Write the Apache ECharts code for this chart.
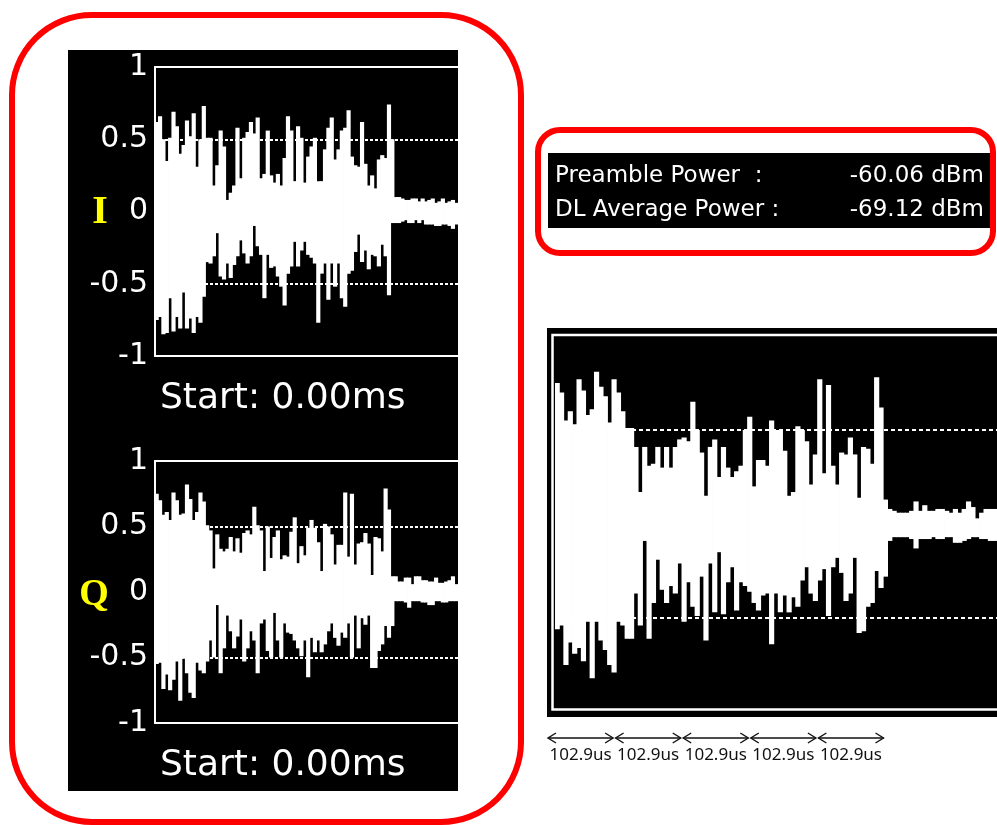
<!DOCTYPE html>
<html><head><meta charset="utf-8">
<script src="https://cdn.jsdelivr.net/npm/echarts@6/dist/echarts.min.js"></script>
<style>html,body{margin:0;padding:0;background:#fff}#c{width:997px;height:825px}</style>
</head><body><div id="c"></div>
<script>
// I channel envelope (upper / lower), normalized amplitude
const iUpper = [0.62,0.66,0.50,0.35,0.51,0.69,0.59,0.40,0.46,0.63, 0.52,0.68,0.31,0.50,0.73,0.51,0.51,0.18,0.32,0.56, 0.45,0.08,0.13,0.18,0.58,0.23,0.51,0.55,0.62,0.54, 0.65,0.23,0.26,0.56,0.25,0.20,0.26,0.18,0.37,0.66, 0.56,0.21,0.59,
  0.51,0.20,0.38,0.45,0.51,0.21,0.21,0.43,0.58,0.65, 0.36,0.43,0.56,0.58,0.70,0.38,0.32,0.31,0.62,0.33, 0.18,0.25,0.16,0.36,0.39,0.37,0.74,0.50,
  0.10,0.10,0.09,0.08,0.08,0.09,0.09,0.07,0.09,0.07,0.08,0.09,0.06,0.07,0.09,0.06,0.07,0.08,0.06];
const iLower = [-0.75,-0.73,-0.85,-0.84,-0.60,-0.83,-0.73,-0.81,-0.56,-0.81, -0.74,-0.84,-0.73,-0.77,-0.59,-0.35,-0.36,-0.31,-0.15,-0.45, -0.47,-0.36,-0.46,-0.37,-0.31,-0.20,-0.29,-0.36,-0.31,-0.10, -0.24,-0.30,-0.60,-0.30,-0.39,-0.38,-0.45,-0.52,-0.65,-0.43, -0.38,-0.21,-0.38,
  -0.27,-0.21,-0.30,-0.32,-0.36,-0.77,-0.43,-0.36,-0.61,-0.36, -0.52,-0.36,-0.60,-0.66,-0.43,-0.41,-0.28,-0.16,-0.35,-0.27, -0.40,-0.30,-0.31,-0.38,-0.23,-0.31,-0.58,-0.08,
  -0.08,-0.08,-0.07,-0.06,-0.08,-0.08,-0.06,-0.08,-0.06,-0.09,-0.09,-0.09,-0.10,-0.10,-0.09,-0.09,-0.10,-0.12,-0.09];
// Q channel envelope
const qUpper = [0.75,0.70,0.59,0.61,0.55,0.76,0.70,0.59,0.60,0.82, 0.71,0.55,0.61,0.76,0.69,0.51,0.47,0.18,0.44,0.33, 0.31,0.33,0.42,0.31,0.41,0.30,0.45,0.47,0.44,0.65, 0.51,0.47,0.16,0.50,0.26,0.42,0.47,0.25,0.28,0.27, 0.46,0.57,0.22,
  0.35,0.28,0.49,0.55,0.49,0.38,0.16,0.52,0.50,0.44, 0.21,0.36,0.36,0.76,0.27,0.75,0.21,0.37,0.38,0.45, 0.37,0.13,0.42,0.41,0.31,0.79,0.63,0.12,
  0.12,0.08,0.08,0.11,0.11,0.06,0.12,0.12,0.09,0.09,0.08,0.08,0.11,0.07,0.07,0.08,0.09,0.12,0.06];
const qLower = [-0.55,-0.54,-0.74,-0.63,-0.75,-0.67,-0.53,-0.83,-0.51,-0.62, -0.77,-0.81,-0.54,-0.60,-0.62,-0.53,-0.37,-0.50,-0.10,-0.62, -0.43,-0.18,-0.30,-0.43,-0.34,-0.21,-0.53,-0.43,-0.30,-0.37, -0.62,-0.24,-0.21,-0.45,-0.50,-0.16,-0.37,-0.50,-0.24,-0.31, -0.32,-0.37,-0.43,
  -0.49,-0.37,-0.65,-0.35,-0.46,-0.37,-0.46,-0.40,-0.30,-0.24, -0.35,-0.41,-0.31,-0.35,-0.24,-0.50,-0.18,-0.43,-0.20,-0.25, -0.18,-0.58,-0.58,-0.45,-0.40,-0.26,-0.35,-0.26,
  -0.07,-0.07,-0.07,-0.08,-0.12,-0.07,-0.07,-0.07,-0.08,-0.08,-0.10,-0.10,-0.07,-0.07,-0.08,-0.08,-0.07,-0.07,-0.07];
// zoomed view (right)
const zUpper = [0.75,0.70,0.55,0.60,0.53,0.77,0.71,0.58,0.61,0.81, 0.73,0.68,0.54,0.77,0.70,0.60,0.51,0.51,0.41,0.17, 0.41,0.31,0.32,0.41,0.30,0.41,0.30,0.41,0.45,0.46, 0.44,0.65,0.50,0.38,0.15,0.41,0.45,0.25,0.41,0.30, 0.25,0.28,0.31,0.50,0.57,0.20,0.34,0.34,0.31,
  0.55,0.50,0.50,0.39,0.15,0.17,0.52,0.50,0.44,0.21, 0.37,0.77,0.27,0.74,0.31,0.21,0.38,0.37,0.46,0.37, 0.14,0.41,0.40,0.32,0.78,0.62,0.13,
  0.08,0.07,0.06,0.06,0.06,0.07,0.12,0.07,0.10,0.07, 0.07,0.08,0.08,0.07,0.06,0.08,0.06,0.08,0.12,0.09, 0.03,0.06,0.08,0.08,0.08];
const zLower = [-0.56,-0.54,-0.75,-0.63,-0.69,-0.66,-0.73,-0.52,-0.82,-0.52, -0.62,-0.67,-0.75,-0.79,-0.52,-0.54,-0.61,-0.61,-0.37,-0.54, -0.09,-0.61,-0.42,-0.19,-0.35,-0.42,-0.33,-0.37,-0.21,-0.52, -0.31,-0.44,-0.49,-0.28,-0.62,-0.21,-0.47,-0.15,-0.48,-0.31, -0.23,-0.46,-0.31,-0.33,-0.36,-0.42,-0.46,-0.38,-0.37,
  -0.64,-0.37,-0.47,-0.38,-0.47,-0.39,-0.44,-0.30,-0.23,-0.37, -0.41,-0.30,-0.24,-0.49,-0.23,-0.18,-0.26,-0.41,-0.37,-0.18, -0.58,-0.57,-0.44,-0.42,-0.25,-0.34,-0.28,
  -0.09,-0.07,-0.07,-0.07,-0.07,-0.08,-0.13,-0.08,-0.08,-0.08, -0.07,-0.08,-0.08,-0.07,-0.07,-0.10,-0.10,-0.09,-0.08,-0.07, -0.07,-0.08,-0.08,-0.09,-0.09];
const yMin = -1, yMax = 1, yInterval = 0.5;
const refLevels = [0.5, -0.5];
const symbolDurations = [102.9, 102.9, 102.9, 102.9, 102.9];
const durationUnit = 'us';
const powerLabels = ['Preamble Power  :', 'DL Average Power :'];
const powerValues = ['-60.06 dBm', '-69.12 dBm'];
const startLabel = 'Start: 0.00ms';

const chart = echarts.init(document.getElementById('c'), null, {renderer: 'canvas'});
const idx = a => a.map((_, i) => i);
const W = '#ffffff';

function catAxis(grid, n, pos, showLine) {
  return {type: 'category', gridIndex: grid, data: idx(n), position: pos, boundaryGap: true,
    axisLine: {show: showLine, onZero: false, lineStyle: {color: W, width: 2}},
    axisTick: {show: false}, axisLabel: {show: false}, splitLine: {show: false}};
}
function valAxis(grid, show) {
  return {type: 'value', gridIndex: grid, min: yMin, max: yMax, interval: yInterval,
    show: show,
    axisLine: {show: true, lineStyle: {color: W, width: 2}},
    axisTick: {show: false}, splitLine: {show: false},
    axisLabel: {color: W, fontSize: 30, fontFamily: 'DejaVu Sans', margin: 7,
      formatter: v => String(v)}};
}
// one white span per sample, from lower to upper envelope
function envSeries(xi, yi, upper, lower, dash) {
  return {type: 'custom', xAxisIndex: xi, yAxisIndex: yi, silent: true, clip: true,
    data: upper.map((u, i) => [i, lower[i], u]),
    encode: {x: 0, y: [1, 2]},
    renderItem: function (params, api) {
      const i = api.value(0);
      const top = api.coord([i, api.value(2)]);
      const bot = api.coord([i, api.value(1)]);
      const w = api.size([1, 0])[0];
      return {type: 'rect',
        shape: {x: top[0] - w / 2 - 0.4, y: top[1], width: w + 0.8, height: bot[1] - top[1]},
        style: {fill: W}};
    },
    markLine: {symbol: 'none', silent: true, label: {show: false},
      lineStyle: {color: W, type: dash, width: 2},
      data: refLevels.map(v => ({yAxis: v}))}
  };
}

// arrow annotation data built from durations
const arrowData = [];
let acc = 0;
symbolDurations.forEach(d => { arrowData.push([acc, acc + d, d]); acc += d; });

const option = {
  animation: false,
  backgroundColor: '#fff',
  grid: [
    {left: 155, top: 67, width: 303, height: 289},
    {left: 155, top: 461, width: 303, height: 262},
    {left: 555, top: 336, width: 442, height: 376},
    {left: 547, top: 723, width: 338, height: 30}
  ],
  xAxis: [
    catAxis(0, iUpper, 'bottom', true),
    catAxis(0, iUpper, 'top', true),
    catAxis(1, qUpper, 'bottom', true),
    catAxis(1, qUpper, 'top', true),
    catAxis(2, zUpper, 'bottom', false),
    {type: 'value', gridIndex: 3, min: 0, max: acc, show: false}
  ],
  yAxis: [
    valAxis(0, true),
    valAxis(1, true),
    valAxis(2, false),
    {type: 'value', gridIndex: 3, min: 0, max: 1, show: false}
  ],
  series: [
    envSeries(0, 0, iUpper, iLower, [3, 2]),
    envSeries(2, 1, qUpper, qLower, [3, 2]),
    envSeries(4, 2, zUpper, zLower, [4, 3]),
    {
      type: 'custom', xAxisIndex: 5, yAxisIndex: 3, silent: true,
      data: arrowData,
      renderItem: function (params, api) {
        const p0 = api.coord([api.value(0), 0.5]);
        const p1 = api.coord([api.value(1), 0.5]);
        const a = p0[0] + 1, b = p1[0] - 1.5, y = p0[1];
        const st = {stroke: '#111', lineWidth: 1.4, fill: null};
        return {type: 'group', children: [
          {type: 'line', shape: {x1: a, y1: y, x2: b, y2: y}, style: st},
          {type: 'polyline', shape: {points: [[a + 8, y - 5], [a, y], [a + 8, y + 5]]}, style: st},
          {type: 'polyline', shape: {points: [[b - 8, y - 5], [b, y], [b - 8, y + 5]]}, style: st},
          {type: 'text', style: {text: api.value(2).toFixed(1) + durationUnit, x: (a + b) / 2, y: y + 17,
            align: 'center', verticalAlign: 'middle', fontSize: 17, fontFamily: 'Noto Sans', fill: '#111'}}
        ]};
      }
    }
  ],
  graphic: {elements: [
    {type: 'rect', z: -10, shape: {x: 12, y: 15, width: 509, height: 807, r: 80},
      style: {fill: '#fff', stroke: '#ff0000', lineWidth: 6}},
    {type: 'rect', z: -9, shape: {x: 68, y: 50, width: 390, height: 741}, style: {fill: '#000'}},
    {type: 'rect', z: -10, shape: {x: 538, y: 130, width: 455, height: 123, r: 22},
      style: {fill: '#fff', stroke: '#ff0000', lineWidth: 6}},
    {type: 'rect', z: -9, shape: {x: 548, y: 153, width: 442, height: 75}, style: {fill: '#000'}},
    {type: 'rect', z: -9, shape: {x: 547, y: 328, width: 460, height: 389}, style: {fill: '#000'}},
    {type: 'rect', z: -8, shape: {x: 552.5, y: 335, width: 460, height: 374.5},
      style: {fill: null, stroke: '#fff', lineWidth: 2.5}},
    {type: 'text', z: 10, style: {text: startLabel, x: 160, y: 399, fill: '#fff', fontSize: 36, fontFamily: 'DejaVu Sans',
      align: 'left', verticalAlign: 'middle', textAlign: 'left', textVerticalAlign: 'middle'}},
    {type: 'text', z: 10, style: {text: startLabel, x: 160, y: 766, fill: '#fff', fontSize: 36, fontFamily: 'DejaVu Sans',
      align: 'left', verticalAlign: 'middle', textAlign: 'left', textVerticalAlign: 'middle'}},
    {type: 'text', z: 10, style: {text: 'I', x: 100, y: 213, fill: '#ffff00', fontSize: 40, fontWeight: 'bold', fontFamily: 'Liberation Serif',
      align: 'center', verticalAlign: 'middle', textAlign: 'center', textVerticalAlign: 'middle'}},
    {type: 'text', z: 10, style: {text: 'Q', x: 94, y: 595, fill: '#ffff00', fontSize: 38, fontWeight: 'bold', fontFamily: 'Liberation Serif',
      align: 'center', verticalAlign: 'middle', textAlign: 'center', textVerticalAlign: 'middle'}},
    {type: 'text', z: 10, style: {text: powerLabels[0], x: 555, y: 176, fill: '#fff', fontSize: 23, fontFamily: 'DejaVu Sans',
      align: 'left', verticalAlign: 'middle', textAlign: 'left', textVerticalAlign: 'middle'}},
    {type: 'text', z: 10, style: {text: powerLabels[1], x: 555, y: 210, fill: '#fff', fontSize: 23, fontFamily: 'DejaVu Sans',
      align: 'left', verticalAlign: 'middle', textAlign: 'left', textVerticalAlign: 'middle'}},
    {type: 'text', z: 10, style: {text: powerValues[0], x: 984, y: 176, fill: '#fff', fontSize: 23, fontFamily: 'DejaVu Sans',
      align: 'right', verticalAlign: 'middle', textAlign: 'right', textVerticalAlign: 'middle'}},
    {type: 'text', z: 10, style: {text: powerValues[1], x: 984, y: 210, fill: '#fff', fontSize: 23, fontFamily: 'DejaVu Sans',
      align: 'right', verticalAlign: 'middle', textAlign: 'right', textVerticalAlign: 'middle'}}
  ]}
};
chart.setOption(option);
</script></body></html>
